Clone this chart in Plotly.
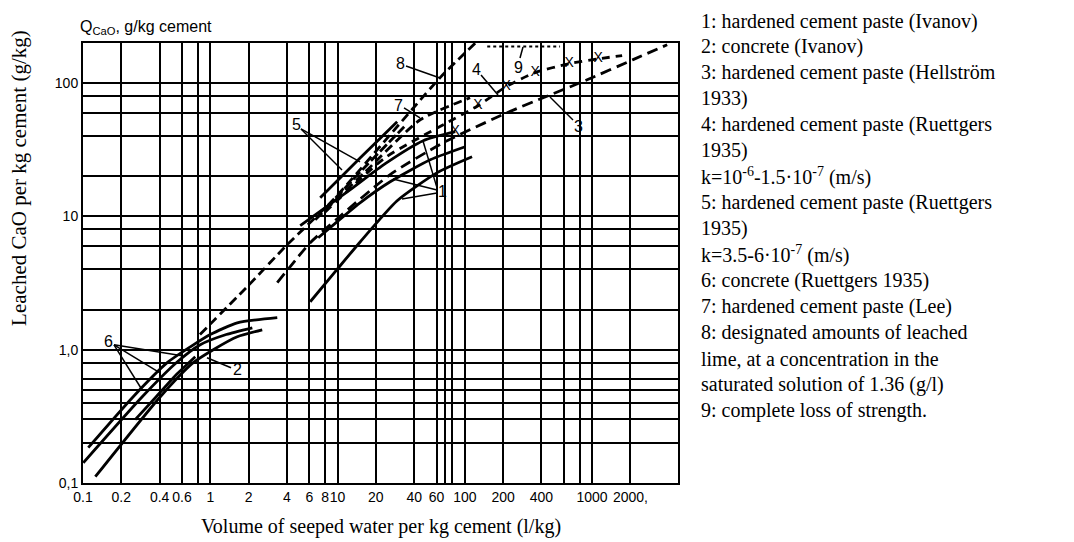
import plotly.graph_objects as go

# ---------------- data ----------------
x_tick_vals = [0.1, 0.2, 0.4, 0.6, 1, 2, 4, 6, 8, 10, 20, 40, 60, 100, 200, 400, 1000, 2000]
x_tick_text = ["0.1", "0.2", "0.4", "0.6", "1", "2", "4", "6", "8", "10", "20", "40", "60", "100", "200", "400", "1000", "2000,"]
x_minor_grid = [0.8, 70, 80, 600, 800]
y_tick_vals = [0.1, 1, 10, 100]
y_tick_text = ["0,1", "1,0", "10", "100"]
y_minor_grid = [0.2, 0.3, 0.4, 0.5, 0.6, 0.8, 2, 4, 6, 8, 20, 40, 60, 80]

# 6: concrete (Ruettgers 1935) - three curves
c6a_x = [0.110, 0.248, 0.459, 0.697, 1.0, 1.63, 3.36]
c6a_y = [0.184, 0.444, 0.799, 1.05, 1.30, 1.59, 1.74]
c6b_x = [0.1005, 0.292, 0.541, 0.834, 1.335, 2.14]
c6b_y = [0.142, 0.444, 0.799, 1.09, 1.30, 1.46]
c6c_x = [0.257, 0.370, 0.531, 0.762]
c6c_y = [0.299, 0.436, 0.638, 0.886]
# 2: concrete (Ivanov)
c2_x = [0.125, 0.405, 0.735, 1.056, 1.63, 2.56]
c2_y = [0.1115, 0.444, 0.799, 1.0, 1.25, 1.41]
# 8: saturated solution line
c8_x = [0.83, 1.95, 4.0, 9.3, 64, 121]
c8_y = [1.3, 2.97, 6.1, 13.4, 110, 200]
# 3: Hellström 1933
c3_x = [3.36, 6.10, 9.94, 25.9, 67.6, 215, 413, 915, 2100, 3890]
c3_y = [3.18, 6.35, 9.61, 20.6, 35.7, 60.0, 77.7, 106, 150, 194]
# 1: Ivanov hardened paste - three curves
c1a_x = [5.09, 12.6, 23.7, 47.1, 84.1]
c1a_y = [8.52, 15.9, 24.9, 37.0, 43.2]
c1b_x = [7.05, 15.1, 25.9, 53.5, 100.7]
c1b_y = [6.92, 12.7, 18.2, 26.6, 33.3]
c1c_x = [6.10, 9.59, 15.1, 29.4, 60.7, 114]
c1c_y = [2.29, 3.85, 6.46, 13.1, 21.3, 28.0]
# 5: Ruettgers 1935, k=3.5-6e-7
c5a_x = [7.31, 15.1, 29.4]
c5a_y = [13.8, 27.6, 51.3]
c5b_x = [8.15, 16.8, 33.4]
c5b_y = [11.6, 24.0, 47.1]
# 7: Lee
c7_x = [6.68, 16.5, 44.6, 110]
c7_y = [9.45, 21.6, 53.1, 77.7]
# 4: Ruettgers 1935, k=1e-6-1.5e-7
c4_x = [8.00, 23.7, 70.1, 127, 211, 357, 661, 1116, 1722]
c4_y = [10.8, 27.6, 49.6, 67.7, 94, 120, 140, 152, 161]
# X marks: complete loss of strength
loss_x = [84.1, 127, 211, 357, 661, 1116]
loss_y = [43.2, 67.7, 94, 120, 140, 152]
# 9: complete loss of strength (dotted top line)
c9_x = [150, 560]
c9_y = [188, 188]

legend_lines = [
    "1: hardened cement paste (Ivanov)",
    "2: concrete (Ivanov)",
    "3: hardened cement paste (Hellström",
    "1933)",
    "4: hardened cement paste (Ruettgers",
    "1935)",
    "k=10<sup>-6</sup>-1.5·10<sup>-7</sup> (m/s)",
    "5: hardened cement paste (Ruettgers",
    "1935)",
    "k=3.5-6·10<sup>-7</sup> (m/s)",
    "6: concrete (Ruettgers 1935)",
    "7: hardened cement paste (Lee)",
    "8: designated amounts of leached",
    "lime, at a concentration in the",
    "saturated solution of 1.36 (g/l)",
    "9: complete loss of strength.",
]

# ---------------- figure ----------------
PL, PR, PT, PB = 83, 678, 43, 483.3


def fx(p):
    return (p - PL) / (PR - PL)


def fy(p):
    return (PB - p) / (PB - PT)


fig = go.Figure()

SOLID = "solid"
DASH = "9px,5px"
LW = 2.8


def add(xs, ys, dash=SOLID, width=LW):
    fig.add_trace(go.Scatter(x=xs, y=ys, mode="lines", line=dict(color="black", width=width, dash=dash,
                                                                  shape="spline", smoothing=0.6),
                             showlegend=False, hoverinfo="skip"))


add(c6a_x, c6a_y)
add(c6b_x, c6b_y)
add(c6c_x, c6c_y)
add(c2_x, c2_y)
add(c8_x, c8_y, DASH)
add(c3_x, c3_y, "11px,6px")
add(c1a_x, c1a_y)
add(c1b_x, c1b_y)
add(c1c_x, c1c_y)
add(c5a_x, c5a_y)
add(c5b_x, c5b_y, "10px,3px")
add(c7_x, c7_y, DASH)
add(c4_x, c4_y, "8px,6px")
add(c9_x, c9_y, "dot", 2)
fig.add_trace(go.Scatter(x=loss_x, y=loss_y, mode="text", text=["X"] * len(loss_x),
                         textfont=dict(family="Liberation Sans", size=14, color="black"),
                         showlegend=False, hoverinfo="skip"))

tickfont = dict(family="Liberation Sans", size=14, color="black")
grid = dict(showgrid=True, gridcolor="black", gridwidth=1.8)
fig.update_xaxes(type="log", range=[-1, 3.675], tickmode="array", tickvals=x_tick_vals, ticktext=x_tick_text,
                 tickangle=0, showline=True, mirror=True, linecolor="black", linewidth=2, ticks="",
                 tickfont=tickfont, zeroline=False, gridcolor="black", gridwidth=1.8,
                 minor=dict(tickmode="array", tickvals=x_minor_grid, ticks="", **grid))
fig.update_yaxes(type="log", range=[-1, 2.30103], tickmode="array", tickvals=y_tick_vals, ticktext=y_tick_text,
                 showline=True, mirror=True, linecolor="black", linewidth=2, ticks="",
                 tickfont=tickfont, zeroline=False, gridcolor="black", gridwidth=1.8,
                 minor=dict(tickmode="array", tickvals=y_minor_grid, ticks="", **grid))

ann = []
shapes = []
lab_font = dict(family="Liberation Sans", size=16, color="black")


def label(t, x, y):
    ann.append(dict(text=t, x=fx(x), y=fy(y), xref="paper", yref="paper", showarrow=False,
                    font=lab_font, xanchor="center", yanchor="middle"))


def leader(x0, y0, x1, y1):
    shapes.append(dict(type="line", xref="paper", yref="paper", x0=fx(x0), y0=fy(y0), x1=fx(x1), y1=fy(y1),
                       line=dict(color="black", width=1.5)))


label("8", 400, 64)
leader(406, 66, 440, 78)
label("7", 398, 106)
leader(404, 108, 420, 118)
label("4", 476, 70)
leader(481, 75, 498, 95)
label("9", 518, 68)
leader(520, 58, 523, 47)
label("3", 578, 127)
leader(573, 120, 550, 97)
label("5", 296, 125)
leader(301, 129, 342, 170)
leader(301, 129, 360, 162)
label("1", 442, 192)
leader(437, 188, 423, 141)
leader(437, 190, 393, 179)
leader(437, 193, 402, 199)
label("6", 108, 342)
leader(114, 345, 142, 390)
leader(114, 345, 160, 373)
leader(114, 345, 182, 356)
label("2", 237, 370)
leader(231, 368, 207, 358)

# axis captions
ann.append(dict(text="Q<sub>CaO</sub>, g/kg cement", x=fx(78), y=fy(27), xref="paper", yref="paper",
                showarrow=False, xanchor="left", yanchor="middle",
                font=dict(family="Liberation Sans", size=16, color="black")))
ann.append(dict(text="Volume of seeped water per kg cement (l/kg)", x=fx(381), y=fy(527), xref="paper",
                yref="paper", showarrow=False, xanchor="center", yanchor="middle",
                font=dict(family="Liberation Serif", size=20, color="black")))
ann.append(dict(text="Leached CaO per kg cement (g/kg)", x=fx(19), y=fy(178), xref="paper", yref="paper",
                showarrow=False, xanchor="center", yanchor="middle", textangle=-90,
                font=dict(family="Liberation Serif", size=21, color="black")))

for i, t in enumerate(legend_lines):
    ann.append(dict(text=t, x=fx(699), y=fy(21 + 26 * i), xref="paper", yref="paper", showarrow=False,
                    xanchor="left", yanchor="middle",
                    font=dict(family="Liberation Serif", size=20, color="black")))

fig.update_layout(width=1074, height=542, margin=dict(l=83, r=396, t=43, b=59),
                  paper_bgcolor="white", plot_bgcolor="white", annotations=ann, shapes=shapes)

fig.write_html("out.html")
